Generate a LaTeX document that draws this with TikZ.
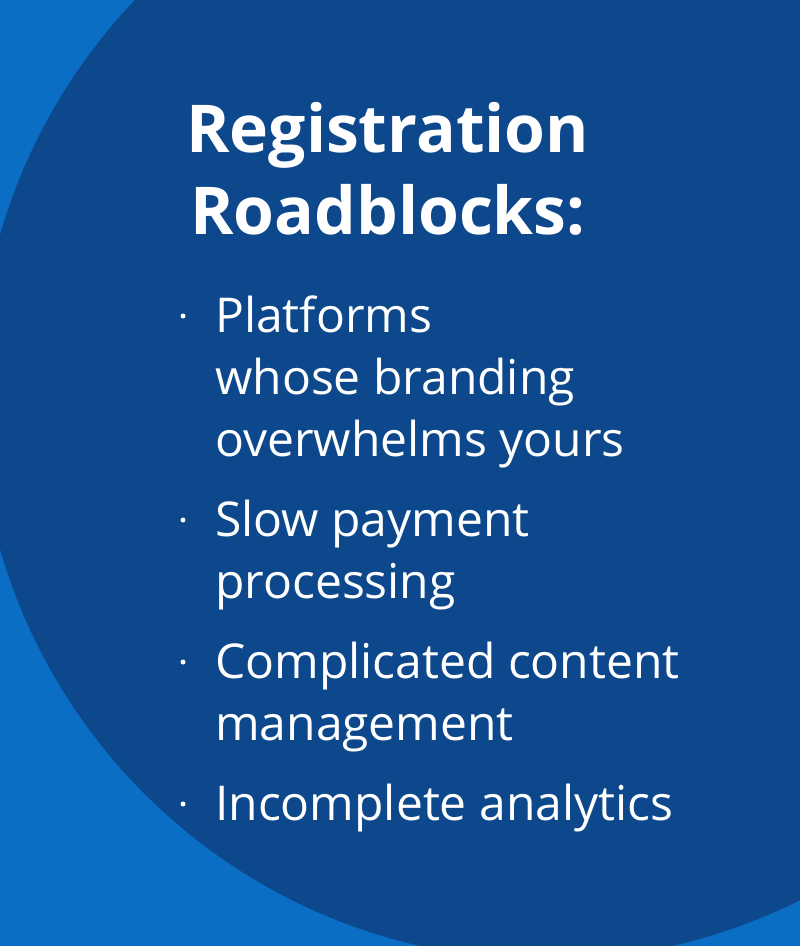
\documentclass[tikz,border=0pt]{standalone}
\usepackage{fontspec}
\setmainfont{Open Sans}
\usetikzlibrary{positioning}
\definecolor{lightbg}{RGB}{10,110,196}
\definecolor{darkcircle}{RGB}{14,72,140}
\begin{document}
\begin{tikzpicture}[x=1pt,y=-1pt,
    title/.style={anchor=base west, inner sep=0pt, text=white, font=\fontsize{66}{66}\selectfont\bfseries},
    item/.style={anchor=base west, inner sep=0pt, text=white, font=\fontsize{48}{48}\selectfont},
    dot/.style={circle, fill=white, inner sep=0pt, minimum size=5pt}
]
% Background and circle
\fill[lightbg] (0,0) rectangle (800,946);
\begin{scope}
  \clip (0,0) rectangle (800,946);
  \fill[darkcircle] (546,392) circle (568);
\end{scope}
\useasboundingbox (0,0) rectangle (800,946);

% Title
\node[title] (t1) at (186,152) {Registration};
\node[title] (t2) at (190,234) {Roadblocks:};

% List items
\node[item] (a1) at (215,332) {Platforms};
\node[item] (a2) at (215,394) {whose branding};
\node[item] (a3) at (215,456) {overwhelms yours};
\node[item] (b1) at (215,536) {Slow payment};
\node[item] (b2) at (215,598) {processing};
\node[item] (c1) at (215,678) {Complicated content};
\node[item] (c2) at (215,740) {management};
\node[item] (d1) at (215,820) {Incomplete analytics};

% Bullets
\foreach \n in {a1,b1,c1,d1}
  \node[dot] at ([xshift=-32pt,yshift=16pt]\n.base west) {};
\end{tikzpicture}
\end{document}
